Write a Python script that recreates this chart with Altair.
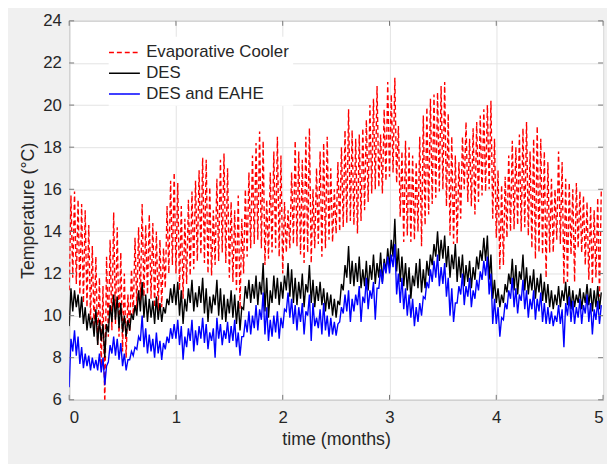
import altair as alt
import pandas as pd

# one low and one high value per day, 30 days per month
EVAP_LO = [11.2, 11.8, 11.5, 11.0, 10.6, 10.4, 9.8, 9.4, 8.6, 7.6,
           5.7, 9.0, 9.3, 9.6, 9.0, 8.3, 8.0, 9.2, 10.0, 10.3,
           10.6, 10.9, 11.0, 10.8, 10.4, 10.2, 10.4, 11.3, 12.0, 12.4,
           12.0, 11.2, 10.8, 11.5, 11.9, 12.2, 12.6, 12.9, 12.5, 12.0,
           11.9, 12.4, 12.6, 13.0, 12.5, 11.8, 11.6, 11.2, 10.3, 12.0,
           12.8, 13.2, 13.4, 13.6, 13.2, 12.4, 12.7, 13.0, 13.2, 12.8,
           12.0, 13.0, 13.2, 13.4, 13.3, 12.9, 12.5, 13.0, 12.5, 13.2,
           13.4, 12.8, 13.2, 13.6, 13.5, 13.9, 14.0, 14.2, 14.4, 14.5,
           14.3, 13.9, 14.5, 15.0, 15.4, 15.8, 16.0, 16.1, 15.8, 16.4,
           16.6, 16.8, 16.3, 14.7, 13.5, 13.8, 13.5, 13.6, 14.0, 13.3,
           14.3, 14.8, 15.3, 15.6, 15.9, 16.0, 15.2, 13.8, 13.4, 13.4,
           14.6, 16.0, 15.4, 15.2, 14.8, 15.4, 15.7, 15.9, 16.0, 14.6,
           13.7, 12.2, 12.4, 13.7, 14.0, 14.1, 14.3, 14.0, 14.2, 13.8,
           13.2, 12.7, 13.0, 12.9, 11.8, 13.0, 13.0, 13.6, 13.4, 11.5,
           11.6, 12.9, 11.6, 13.2, 13.0, 12.4, 11.7, 11.5, 11.8, 10.9]
EVAP_HI = [15.7, 15.9, 15.5, 15.3, 15.0, 14.3, 13.3, 12.8, 11.8, 11.4,
           12.8, 13.6, 14.9, 14.2, 13.0, 12.0, 11.0, 12.2, 13.7, 14.2,
           15.3, 14.3, 14.8, 14.4, 14.0, 13.6, 13.2, 15.2, 16.4, 16.8,
           16.3, 15.2, 14.6, 15.5, 15.9, 16.4, 16.9, 17.5, 17.4, 16.1,
           15.0, 16.5, 17.4, 17.7, 17.0, 15.4, 15.0, 15.7, 14.6, 16.0,
           16.8, 17.6, 18.2, 18.75, 18.3, 15.5, 16.8, 17.8, 18.5, 17.6,
           15.4, 15.0, 16.8, 18.3, 17.8, 17.4, 18.5, 18.9, 16.0, 17.0,
           17.8, 18.2, 18.5, 17.0, 16.0, 17.3, 18.0, 18.8, 19.8, 18.8,
           18.4, 18.6, 18.9, 19.3, 20.0, 20.3, 20.9, 18.6, 19.8, 21.1,
           20.5, 21.3, 19.0, 17.8, 18.3, 18.0, 17.6, 17.3, 18.5, 19.5,
           19.9, 20.3, 20.5, 20.6, 20.9, 21.1, 19.6, 18.5, 17.6, 17.3,
           18.5, 19.2, 18.4, 18.9, 19.2, 19.5, 19.8, 20.0, 20.2, 18.4,
           16.9, 16.2, 16.6, 17.6, 18.3, 18.0, 18.6, 18.9, 19.2, 17.8,
           18.4, 19.0, 18.4, 17.8, 17.3, 16.5, 16.0, 17.8, 17.3, 16.5,
           16.3, 16.0, 16.3, 15.9, 15.7, 15.4, 15.2, 15.0, 15.6, 15.9]

DES_LO = [9.5, 10.2, 10.4, 9.9, 9.6, 9.3, 9.4, 9.0, 8.6, 8.8,
          8.0, 9.2, 9.7, 9.8, 9.4, 9.2, 9.0, 9.3, 9.8, 10.0,
          10.2, 9.9, 9.7, 9.9, 9.6, 9.8, 9.7, 10.1, 10.5, 10.6,
          10.5, 10.0, 9.6, 10.2, 10.6, 10.2, 10.4, 10.6, 10.1, 9.7,
          10.1, 10.5, 10.0, 9.8, 9.7, 10.1, 9.9, 9.6, 9.3, 10.3,
          10.8, 10.6, 10.8, 10.5, 11.0, 10.2, 9.9, 10.6, 10.8, 10.5,
          10.8, 11.2, 10.9, 10.6, 10.5, 10.8, 10.4, 11.1, 10.6, 10.4,
          10.7, 10.5, 10.2, 10.3, 10.0, 9.9, 10.5, 11.2, 11.8, 11.5,
          11.4, 11.6, 11.3, 11.4, 11.2, 11.7, 11.5, 11.8, 11.6, 12.1,
          12.3, 12.8, 12.1, 11.6, 11.4, 11.2, 10.8, 11.4, 11.3, 11.1,
          11.3, 11.9, 12.4, 12.8, 12.6, 12.7, 12.3, 11.8, 12.2, 11.6,
          11.8, 11.4, 11.6, 11.3, 11.7, 12.2, 12.6, 12.6, 11.7, 10.8,
          10.6, 10.4, 10.6, 11.1, 11.5, 11.2, 11.0, 11.7, 11.2, 11.0,
          11.2, 10.8, 11.1, 10.7, 10.6, 10.4, 10.3, 10.5, 10.4, 10.7,
          10.5, 10.3, 10.4, 10.6, 10.3, 10.6, 10.5, 10.2, 10.4, 10.3]
DES_HI = [11.3, 11.2, 11.0, 10.9, 10.4, 10.1, 9.9, 10.3, 9.8, 9.6,
          9.6, 10.5, 11.0, 10.9, 10.6, 10.0, 9.8, 10.1, 10.5, 11.2,
          11.6, 11.0, 10.8, 10.7, 10.9, 10.6, 10.4, 10.8, 11.3, 11.5,
          11.6, 11.2, 10.8, 11.3, 11.7, 11.1, 11.4, 11.8, 11.3, 10.9,
          11.0, 11.7, 11.3, 11.0, 10.8, 11.2, 11.0, 10.7, 10.4, 11.4,
          11.7, 11.5, 11.9, 11.6, 12.5, 11.8, 11.2, 11.9, 11.8, 11.6,
          11.9, 12.5, 12.2, 11.8, 11.6, 12.0, 11.5, 12.4, 11.7, 11.4,
          11.6, 11.3, 11.1, 11.0, 10.8, 10.7, 11.5, 12.4, 13.3, 12.6,
          12.5, 12.8, 12.2, 12.6, 12.4, 12.9, 12.5, 13.0, 12.7, 13.2,
          13.6, 14.6, 13.2, 12.8, 12.5, 12.3, 11.9, 12.5, 12.7, 12.2,
          12.6, 12.9, 13.4, 14.0, 13.6, 13.8, 13.3, 12.9, 13.4, 12.8,
          12.9, 12.4, 12.6, 12.3, 12.8, 13.1, 13.7, 13.8, 12.9, 11.7,
          11.3, 11.0, 11.5, 12.0, 12.7, 12.4, 12.1, 12.9, 12.3, 11.9,
          12.2, 11.8, 12.0, 11.6, 11.5, 11.2, 11.0, 11.4, 11.2, 11.6,
          11.4, 11.2, 11.0, 11.3, 11.1, 11.5, 11.3, 11.2, 11.4, 11.1]

EAHE_LO = [6.6, 8.3, 8.1, 7.7, 7.5, 7.6, 7.4, 7.5, 7.4, 7.3,
           6.7, 7.8, 8.2, 8.1, 7.9, 7.6, 7.4, 7.9, 8.1, 8.4,
           8.8, 8.5, 8.2, 8.3, 8.0, 8.2, 7.9, 8.4, 8.7, 8.9,
           8.9, 8.6, 7.9, 8.5, 8.8, 8.3, 8.6, 8.9, 8.7, 8.4,
           8.8, 8.0, 8.9, 8.6, 8.9, 8.7, 8.8, 8.5, 8.1, 9.0,
           9.2, 9.1, 9.4, 9.3, 9.8, 9.1, 8.8, 9.0, 9.2, 8.9,
           9.4, 10.2, 9.9, 9.6, 9.3, 9.7, 9.1, 10.0, 8.8, 9.5,
           9.4, 9.1, 9.3, 9.0, 9.1, 9.05, 9.7, 10.1, 10.2, 9.7,
           10.2, 10.5, 9.7, 10.6, 10.3, 10.8, 9.8, 11.3, 11.5, 12.0,
           12.0, 12.3, 11.0, 10.6, 10.3, 10.0, 9.9, 9.5, 9.7, 10.0,
           10.8, 11.3, 11.6, 11.8, 11.4, 11.5, 10.9, 10.0, 9.7, 10.6,
           11.0, 10.5, 10.9, 10.4, 10.8, 11.2, 11.7, 11.9, 11.0, 9.6,
           9.6, 9.0, 9.8, 10.3, 10.8, 10.4, 10.1, 10.7, 10.3, 9.9,
           10.3, 9.8, 10.2, 9.7, 9.6, 9.6, 9.5, 9.7, 9.6, 8.5,
           10.0, 9.7, 9.6, 9.9, 9.6, 10.1, 9.7, 9.1, 9.8, 9.6]
EAHE_HI = [8.9, 9.3, 9.0, 8.5, 8.2, 8.1, 8.0, 7.9, 8.2, 8.0,
           7.6, 8.6, 9.0, 8.9, 8.7, 8.2, 7.9, 8.3, 8.5, 9.0,
           10.0, 9.4, 9.1, 8.9, 9.2, 8.8, 8.7, 9.0, 9.4, 9.6,
           9.8, 9.5, 9.0, 9.4, 9.8, 9.3, 9.5, 9.9, 9.6, 9.2,
           9.4, 9.9, 9.6, 9.3, 9.7, 9.5, 9.8, 9.2, 9.0, 9.8,
           10.2, 10.0, 10.5, 10.3, 11.1, 10.4, 9.8, 10.0, 10.2, 9.9,
           10.3, 11.1, 10.8, 10.5, 10.4, 10.6, 10.2, 11.0, 10.6, 9.9,
           10.3, 10.6, 10.0, 9.9, 9.7, 9.6, 10.4, 11.0, 11.2, 10.8,
           11.0, 11.4, 10.9, 11.8, 11.2, 11.6, 11.3, 12.2, 12.5, 12.8,
           12.9, 13.4, 12.0, 11.8, 11.3, 11.0, 10.8, 10.4, 10.6, 10.9,
           11.6, 12.2, 12.6, 12.9, 12.3, 12.5, 11.8, 11.3, 10.6, 11.4,
           12.0, 11.4, 11.8, 11.2, 11.7, 12.1, 12.6, 12.8, 12.0, 10.8,
           10.4, 9.9, 10.6, 11.2, 11.8, 11.3, 11.0, 11.7, 11.2, 10.8,
           11.2, 10.8, 11.1, 10.6, 10.4, 10.2, 10.0, 10.5, 10.3, 10.6,
           10.9, 10.7, 10.4, 10.8, 10.5, 11.0, 10.6, 10.3, 10.7, 10.5]

SERIES = ["Evaporative Cooler", "DES", "DES and EAHE"]
COLORS = ["#ff0000", "#000000", "#0000ff"]
X_TICKS = [0, 1, 2, 3, 4, 5]
Y_TICKS = [6, 8, 10, 12, 14, 16, 18, 20, 22, 24]

rows = []
for name, lo, hi in zip(SERIES, [EVAP_LO, DES_LO, EAHE_LO], [EVAP_HI, DES_HI, EAHE_HI]):
    for d in range(len(lo)):
        rows.append({"t": d / 30, "temp": lo[d], "series": name, "k": 2 * d})
        rows.append({"t": (d + 0.5) / 30, "temp": hi[d], "series": name, "k": 2 * d + 1})
df = pd.DataFrame(rows)

W, H = 541, 384
ink = "#262626"
edge = "#777777"

x_scale = alt.Scale(domain=[0, 5], nice=False, zero=False)
y_scale = alt.Scale(domain=[6, 24], nice=False, zero=False)
x_axis = alt.Axis(values=X_TICKS, format="d", title="time (months)")
y_axis = alt.Axis(values=Y_TICKS, format="d", title="Temperature (°C)")

legend = alt.Legend(
    title=None, orient="none", legendX=40, legendY=16,
    fillColor="white", padding=4,
    symbolType="M-1.4,0H1.4", symbolSize=500, symbolStrokeWidth=1.5,
    labelFontSize=17, labelColor=ink, labelFont="Liberation Sans",
    labelOffset=10, rowPadding=1,
)


def series_layer(name):
    return alt.Chart(df).transform_filter(alt.datum.series == name).mark_line(
        clip=True, strokeWidth=1.4
    ).encode(
        x=alt.X("t:Q", scale=x_scale, axis=x_axis),
        y=alt.Y("temp:Q", scale=y_scale, axis=y_axis),
        color=alt.Color("series:N", scale=alt.Scale(domain=SERIES, range=COLORS), legend=legend),
        strokeDash=alt.StrokeDash("series:N",
                                  scale=alt.Scale(domain=SERIES, range=[[5, 3], [1, 0], [1, 0]]),
                                  legend=legend),
        order="k:Q",
    )


xt = pd.DataFrame({"v": X_TICKS})
yt = pd.DataFrame({"v": Y_TICKS})
tick_x_bot = alt.Chart(xt).mark_rule(color=edge).encode(
    x=alt.X("v:Q", scale=x_scale, axis=x_axis), y=alt.value(H), y2=alt.value(H - 5))
tick_x_top = alt.Chart(xt).mark_rule(color=edge).encode(
    x=alt.X("v:Q", scale=x_scale, axis=x_axis), y=alt.value(0), y2=alt.value(5))
tick_y_l = alt.Chart(yt).mark_rule(color=edge).encode(
    y=alt.Y("v:Q", scale=y_scale, axis=y_axis), x=alt.value(0), x2=alt.value(5))
tick_y_r = alt.Chart(yt).mark_rule(color=edge).encode(
    y=alt.Y("v:Q", scale=y_scale, axis=y_axis), x=alt.value(W), x2=alt.value(W - 5))

chart = alt.layer(
    series_layer(SERIES[0]), series_layer(SERIES[1]), series_layer(SERIES[2]),
    tick_x_bot, tick_x_top, tick_y_l, tick_y_r,
).properties(
    width=W, height=H,
    autosize=alt.AutoSizeParams(type="none"),
    padding={"left": 62, "top": 10, "right": 4, "bottom": 62},
    background="#f0f0f0",
).configure_view(
    fill="white", stroke=edge, strokeWidth=1,
).configure_axis(
    grid=True, gridColor="#e3e3e3", gridWidth=1,
    domain=False, ticks=False,
    labelFont="Liberation Sans", labelFontSize=17, labelColor=ink,
    titleFont="Liberation Sans", titleFontSize=18, titleColor=ink, titleFontWeight="normal",
    labelPadding=8,
).configure_axisX(
    labelPadding=10, titlePadding=5,
).configure_axisY(
    titlePadding=5,
)

chart.save("out.html", embed_options={"renderer": "svg", "actions": False})
